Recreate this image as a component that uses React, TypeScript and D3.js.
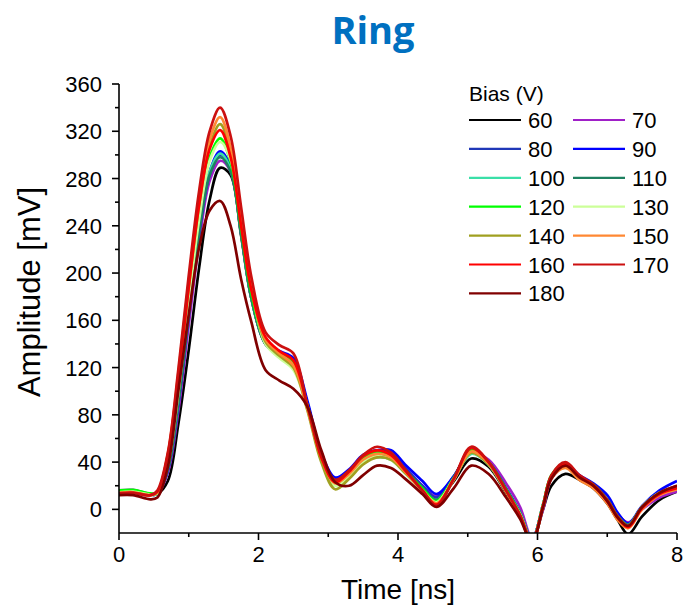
import React from 'react';
import * as d3 from 'd3';

const W = 688;
const H = 608;

const time = [0, 0.2, 0.45, 0.55, 0.7, 0.85, 1.0, 1.15, 1.3, 1.45, 1.6, 1.75, 1.9, 2.1, 2.3, 2.5, 2.7, 2.9, 3.1, 3.3, 3.5, 3.7, 3.9, 4.1, 4.35, 4.55, 4.8, 5.05, 5.3, 5.55, 5.75, 5.92, 6.08, 6.2, 6.4, 6.6, 6.8, 7.0, 7.15, 7.3, 7.5, 7.75, 8.0];

const biasLabels = ['60', '70', '80', '90', '100', '110', '120', '130', '140', '150', '160', '170', '180'];
const biasColors = ['#000000', '#A020C8', '#2038B8', '#0000FF', '#3ADFA8', '#1E8060', '#00FF00', '#CCFF99', '#A0A020', '#FF8833', '#FF0000', '#CC1010', '#800000'];

const s60 = [14, 14.5, 12.5, 13, 24, 72, 135, 205, 262, 289, 283, 232, 178, 140, 131, 124, 90, 46, 23, 30, 41, 46, 44, 33, 18, 8, 24, 43, 36, 14, -6, -27, 0, 20, 30, 25, 18, 5, -9, -21, -6, 8, 15];
const s70 = [16, 16.5, 13, 13.5, 31, 83, 156, 226, 278, 295, 286, 234, 178, 140, 131, 123, 88, 44, 24, 32, 44, 48, 46, 35, 20, 11, 28, 48, 42, 22, 2, -24, 0, 26, 36, 28, 20, 8, -4, -11, 0, 10, 15];
const s80 = [14.5, 15, 12.5, 13, 33, 88, 163, 233, 283, 300, 287, 234, 179, 141, 133, 126, 90, 46, 26, 33, 45, 50, 47, 35, 20, 10, 28, 49, 40, 18, -3, -26, 4, 28, 38, 28, 20, 8, -6, -13, 2, 13, 19];
const s90 = [14.5, 15, 12.5, 13, 34, 90, 166, 236, 286, 303, 290, 236, 180, 142, 134, 128, 92, 48, 27, 34, 46, 50, 50, 38, 24, 13, 28, 50, 40, 17, -3, -26, 4, 28, 38, 29, 22, 12, -3, -12, 3, 16, 24];
const s100 = [15, 15.5, 12.5, 13, 35, 92, 168, 238, 286, 301, 288, 234, 178, 140, 131, 123, 88, 44, 24, 30, 40, 44, 42, 31, 17, 8, 26, 47, 38, 16, -3, -26, 4, 28, 37, 27, 20, 8, -6, -13, 2, 13, 18];
const s110 = [14.5, 15, 12.5, 13, 34, 90, 165, 235, 283, 298, 286, 233, 178, 140, 131, 123, 88, 44, 24, 31, 42, 47, 44, 33, 18, 8, 26, 48, 39, 16, -3, -26, 4, 28, 38, 28, 20, 8, -6, -13, 2, 13, 18];
const s120 = [16, 16.5, 13.5, 14, 40, 102, 180, 250, 298, 314, 294, 238, 182, 142, 132, 124, 88, 44, 24, 32, 44, 49, 45, 33, 18, 7, 27, 50, 40, 17, -4, -27, 4, 29, 39, 28, 21, 8, -6, -14, 2, 14, 18];
const s130 = [14.5, 15, 12.5, 13.5, 38, 98, 176, 246, 295, 311, 296, 244, 188, 140, 128, 118, 86, 42, 20, 28, 40, 45, 42, 31, 16, 6, 26, 48, 38, 15, -4, -27, 4, 28, 37, 27, 20, 7, -7, -14, 2, 14, 18];
const s140 = [14, 14.5, 12, 14, 44, 110, 188, 258, 307, 326, 302, 244, 186, 142, 130, 120, 84, 40, 17, 26, 38, 44, 42, 31, 16, 5, 25, 48, 38, 15, -5, -27, 3, 28, 37, 27, 19, 6, -8, -15, 1, 13, 17];
const s150 = [14, 14.5, 12, 14.5, 47, 115, 193, 264, 313, 332, 306, 246, 188, 144, 132, 122, 86, 44, 22, 30, 42, 47, 44, 32, 16, 5, 25, 49, 39, 15, -6, -28, 2, 26, 35, 25, 18, 5, -9, -16, 0, 12, 17];
const s160 = [13.5, 14, 12, 15, 46, 112, 188, 258, 305, 321, 298, 240, 185, 146, 134, 126, 88, 44, 23, 32, 45, 50, 46, 33, 16, 4, 26, 52, 40, 16, -5, -27, 3, 28, 38, 28, 20, 7, -7, -15, 1, 13, 18];
const s170 = [13.5, 14, 12, 16, 48, 118, 198, 270, 320, 340, 316, 256, 196, 150, 139, 132, 88, 46, 25, 33, 46, 53, 48, 34, 16, 3, 26, 53, 40, 16, -5, -27, 3, 29, 40, 29, 21, 8, -6, -14, 2, 14, 20];
const s180 = [12, 12, 8.5, 10, 36, 100, 165, 222, 253, 261, 240, 195, 158, 118, 109, 102, 87, 50, 23, 20, 29, 37, 35, 26, 13, 2, 18, 37, 30, 10, -8, -28, 2, 26, 37, 27, 20, 7, -7, -14, 2, 14, 20];

const seriesValues = [s60, s70, s80, s90, s100, s110, s120, s130, s140, s150, s160, s170, s180];

const xMajorTicks = [0, 2, 4, 6, 8];
const xMinorTicks = [1, 3, 5, 7];
const yMajorTicks = [0, 40, 80, 120, 160, 200, 240, 280, 320, 360];
const yMinorTicks = [20, 60, 100, 140, 180, 220, 260, 300, 340];

const FONT = "'Liberation Sans', Arial, sans-serif";

export default function App() {
  const x = d3.scaleLinear().domain([0, 8]).range([119, 677]);
  const y = d3.scaleLinear().domain([-20, 360]).range([533, 84]);
  const line = d3
    .line<number>()
    .x((_, i) => x(time[i]))
    .y((d) => y(d))
    .curve(d3.curveCatmullRom.alpha(0.5));

  const legendX = 469;
  const legendCol2 = 573;
  const legendY0 = 120;
  const legendDy = 28.9;

  return (
    <svg width={W} height={H} style={{ position: 'absolute', left: 0, top: 0, background: '#fff' }} fontFamily={FONT}>
      <rect x={0} y={0} width={W} height={H} fill="#fff" />
      <defs>
        <clipPath id="plotClip">
          <rect x={x(0)} y={0} width={x(8) - x(0)} height={y(-20)} />
        </clipPath>
      </defs>
      <text x={373} y={44} textAnchor="middle" fontFamily="'Open Sans', sans-serif" fontWeight="bold" fontSize={38} fill="#0070C0">
        Ring
      </text>

      <g clipPath="url(#plotClip)">
        {seriesValues.map((vals, k) => (
          <path key={k} d={line(vals) || ''} fill="none" stroke={biasColors[k]} strokeWidth={2.7} strokeLinejoin="round" />
        ))}
      </g>

      {/* axes */}
      <line x1={x(0)} x2={x(8)} y1={y(-20)} y2={y(-20)} stroke="#000" strokeWidth={1.6} />
      <line x1={x(0)} x2={x(0)} y1={y(-20)} y2={y(360)} stroke="#000" strokeWidth={1.6} />
      {xMajorTicks.map((t) => (
        <g key={'xm' + t}>
          <line x1={x(t)} x2={x(t)} y1={y(-20)} y2={y(-20) + 7} stroke="#000" strokeWidth={1.6} />
          <text x={x(t)} y={y(-20) + 29} textAnchor="middle" fontSize={22} fill="#000">
            {t}
          </text>
        </g>
      ))}
      {xMinorTicks.map((t) => (
        <line key={'xn' + t} x1={x(t)} x2={x(t)} y1={y(-20)} y2={y(-20) + 4} stroke="#000" strokeWidth={1.6} />
      ))}
      {yMajorTicks.map((v) => (
        <g key={'ym' + v}>
          <line x1={x(0) - 7} x2={x(0)} y1={y(v)} y2={y(v)} stroke="#000" strokeWidth={1.6} />
          <text x={x(0) - 17} y={y(v) + 8} textAnchor="end" fontSize={22} fill="#000">
            {v}
          </text>
        </g>
      ))}
      {yMinorTicks.map((v) => (
        <line key={'yn' + v} x1={x(0) - 4} x2={x(0)} y1={y(v)} y2={y(v)} stroke="#000" strokeWidth={1.6} />
      ))}

      <text x={(x(0) + x(8)) / 2} y={599} textAnchor="middle" fontSize={28} fill="#000">
        Time [ns]
      </text>
      <text transform={`translate(40, 292) rotate(-90)`} textAnchor="middle" fontSize={31} fill="#000">
        Amplitude [mV]
      </text>

      {/* legend */}
      <text x={legendX} y={101} fontSize={21} fill="#000">
        Bias (V)
      </text>
      {biasLabels.map((lab, k) => {
        const col = k % 2;
        const row = Math.floor(k / 2);
        const lx = col === 0 ? legendX : legendCol2;
        const ly = legendY0 + row * legendDy;
        return (
          <g key={'lg' + lab}>
            <line x1={lx} x2={lx + 52} y1={ly} y2={ly} stroke={biasColors[k]} strokeWidth={2.2} />
            <text x={lx + 59} y={ly + 8} fontSize={22} fill="#000">
              {lab}
            </text>
          </g>
        );
      })}
    </svg>
  );
}
